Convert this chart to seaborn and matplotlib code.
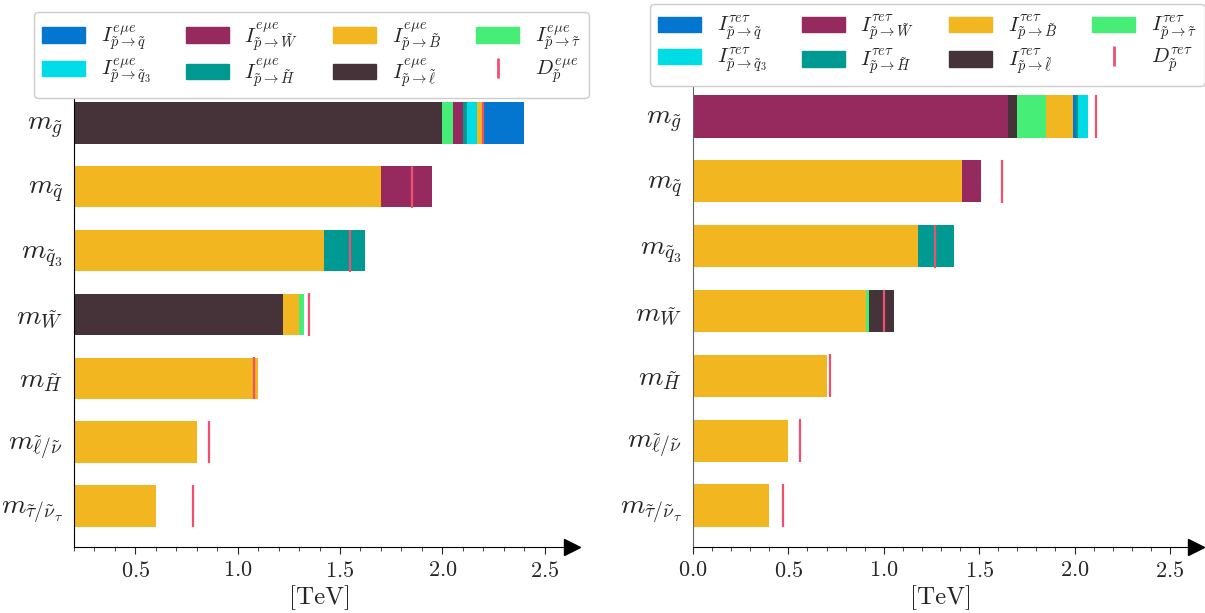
import numpy as np
import pandas as pd
import seaborn as sns
import matplotlib.pyplot as plt
from matplotlib.patches import Patch
from matplotlib.lines import Line2D
from matplotlib.ticker import MultipleLocator

# Row labels (top to bottom)
rows = [r'$m_{\tilde{g}}$', r'$m_{\tilde{q}}$', r'$m_{\tilde{q}_3}$', r'$m_{\tilde{W}}$',
        r'$m_{\tilde{H}}$', r'$m_{\tilde{\ell}/\tilde{\nu}}$', r'$m_{\tilde{\tau}/\tilde{\nu}_\tau}$']

# Components and their colours
comps = ['q', 'q3', 'W', 'H', 'B', 'l', 'tau']
comp_tex = [r'\tilde{q}', r'\tilde{q}_3', r'\tilde{W}', r'\tilde{H}', r'\tilde{B}', r'\tilde{\ell}', r'\tilde{\tau}']
colors = {'q': '#0476D0', 'q3': '#00DCE6', 'W': '#962A5E', 'H': '#009A92',
          'B': '#F1B620', 'l': '#46333A', 'tau': '#46EE78'}
red = '#F0506E'

# e mu e scenario: stacking order and widths per row [TeV]
emu_parts = [['l', 'tau', 'W', 'H', 'q3', 'B', 'q'],
             ['B', 'W'],
             ['B', 'H'],
             ['l', 'B', 'tau'],
             ['B'], ['B'], ['B']]
emu_widths = [[2.00, 0.053, 0.049, 0.020, 0.047, 0.025, 0.205],
              [1.70, 0.25],
              [1.42, 0.20],
              [1.22, 0.08, 0.025],
              [1.10], [0.80], [0.60]]
emu_D = [2.20, 1.85, 1.55, 1.35, 1.08, 0.86, 0.78]

# tau e tau scenario
tet_parts = [['W', 'l', 'tau', 'B', 'q', 'H', 'q3'],
             ['B', 'W'],
             ['B', 'H'],
             ['B', 'tau', 'l'],
             ['B'], ['B'], ['B']]
tet_widths = [[1.65, 0.05, 0.15, 0.14, 0.02, 0.01, 0.05],
              [1.41, 0.10],
              [1.18, 0.19],
              [0.905, 0.018, 0.132],
              [0.70], [0.50], [0.40]]
tet_D = [2.11, 1.62, 1.27, 1.00, 0.72, 0.56, 0.47]

sns.set_style('white')
plt.rcParams['font.family'] = 'serif'
plt.rcParams['font.serif'] = ['cmr10']
plt.rcParams['mathtext.fontset'] = 'cm'
plt.rcParams['axes.unicode_minus'] = False
plt.rcParams['axes.formatter.use_mathtext'] = True


def draw_panel(ax, parts, widths, dvals, xmin, spine_color):
    recs = []
    for i, (p, w) in enumerate(zip(parts, widths)):
        ends = np.cumsum(w)
        for k, (c, e) in enumerate(zip(p, ends)):
            recs.append(dict(row=rows[i], comp=c, end=e, layer=len(p) - 1 - k))
    df = pd.DataFrame(recs)
    # draw outermost segments first, inner ones on top
    for layer in range(df['layer'].max() + 1):
        sub = df[df['layer'] == layer]
        sns.barplot(data=sub, x='end', y='row', hue='comp', palette=colors, order=rows,
                    dodge=False, width=0.65, saturation=1, errorbar=None, legend=False,
                    linewidth=0, orient='h', ax=ax)
    pos = np.arange(len(rows))
    ax.vlines(dvals, pos - 0.33, pos + 0.33, colors=red, lw=1.6, zorder=5)

    ax.set_xlim(xmin, 2.6)
    ax.set_ylim(6.64, -0.64)
    ax.set_ylabel('')
    ax.set_xlabel('[TeV]', fontsize=18, labelpad=3)
    ax.xaxis.set_major_locator(MultipleLocator(0.5))
    ax.xaxis.set_minor_locator(MultipleLocator(0.1))
    ax.tick_params(axis='y', length=0, labelsize=20, pad=8)
    ax.tick_params(axis='x', which='major', direction='out', length=5, labelsize=16,
                   bottom=True, pad=5)
    ax.tick_params(axis='x', which='minor', direction='out', length=3, bottom=True)
    sns.despine(ax=ax)
    ax.spines['left'].set_color(spine_color)
    ax.spines['bottom'].set_color('black')
    ax.plot(1.015, 0, marker='>', color='black', ms=11, transform=ax.transAxes, clip_on=False)


fig = plt.figure(figsize=(12.05, 6.13), dpi=100)
ax1 = fig.add_axes([0.0614, 0.1077, 0.4075, 0.7586])
ax2 = fig.add_axes([0.5751, 0.1077, 0.4116, 0.7700])

draw_panel(ax1, emu_parts, emu_widths, emu_D, 0.2, 'black')
draw_panel(ax2, tet_parts, tet_widths, tet_D, 0.0, '#666666')

for ax, sup, anchor in [(ax1, r'e\mu e', (0.0282, 0.981)), (ax2, r'\tau e\tau', (0.5394, 0.994))]:
    handles = [Patch(color=colors[c]) for c in comps]
    handles.append(Line2D([], [], color=red, marker='|', ls='none', ms=14, mew=2))
    labels = [rf'$I^{{{sup}}}_{{\tilde{{p}}\to {t}}}$' for t in comp_tex]
    labels.append(rf'$D^{{{sup}}}_{{\tilde{{p}}}}$')
    leg = ax.legend(handles, labels, ncol=4, loc='upper left', bbox_to_anchor=anchor,
                    bbox_transform=fig.transFigure, borderaxespad=0, fontsize=15,
                    handlelength=2.05, handleheight=0.75, handletextpad=0.75,
                    columnspacing=1.7, borderpad=0.4, labelspacing=0.2,
                    framealpha=1, edgecolor='#cccccc')
    leg.set_zorder(10)

fig.savefig('out.png', dpi=100)
